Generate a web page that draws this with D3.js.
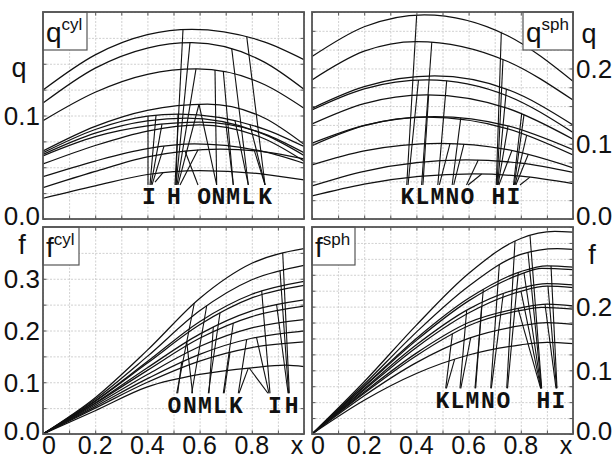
<!DOCTYPE html>
<html>
<head>
<meta charset="utf-8">
<script src="https://cdn.jsdelivr.net/npm/d3@7"></script>
<style>
  html, body { margin: 0; padding: 0; background: #fff; }
  svg { display: block; }
</style>
</head>
<body>
<svg id="fig" width="612" height="461"></svg>
<script>
// ---- curve families: [x, value] pairs along each profile ----
const qCylCurves = [
  [[0,0.1246],[0.2,0.1586],[0.4,0.1781],[0.57,0.1833],[0.85,0.1709],[1,0.154]],
  [[0,0.112],[0.2,0.1458],[0.4,0.1652],[0.57,0.1704],[0.85,0.1513],[1,0.1253]],
  [[0,0.095],[0.2,0.1225],[0.4,0.1398],[0.59,0.145],[0.85,0.1297],[1,0.107]],
  [[0,0.0657],[0.2,0.0895],[0.4,0.105],[0.63,0.111],[0.85,0.0973],[1,0.0722]],
  [[0,0.064],[0.2,0.0865],[0.4,0.0994],[0.52,0.1014],[0.85,0.0866],[1,0.07]],
  [[0,0.0625],[0.2,0.083],[0.4,0.0949],[0.55,0.0975],[0.85,0.0815],[1,0.0615]],
  [[0,0.061],[0.2,0.0795],[0.4,0.0899],[0.6,0.0935],[0.85,0.082],[1,0.064]],
  [[0,0.0531],[0.2,0.071],[0.4,0.085],[0.6,0.091],[0.85,0.0773],[1,0.056]],
  [[0,0.0409],[0.2,0.056],[0.4,0.068],[0.58,0.0725],[0.85,0.0648],[1,0.0538]],
  [[0,0.0303],[0.2,0.046],[0.4,0.06],[0.68,0.0676],[0.85,0.0649],[1,0.058]],
  [[0,0.02],[0.2,0.032],[0.4,0.043],[0.6,0.0467],[0.85,0.0432],[1,0.0377]]
];
const qSphCurves = [
  [[0,0.2158],[0.2,0.2554],[0.43,0.2713],[0.75,0.2435],[1,0.183]],
  [[0,0.1848],[0.2,0.223],[0.40,0.2358],[0.75,0.2093],[1,0.158]],
  [[0,0.147],[0.2,0.1758],[0.47,0.19],[0.75,0.1719],[1,0.125]],
  [[0,0.145],[0.2,0.173],[0.44,0.1848],[0.75,0.1634],[1,0.115]],
  [[0,0.1263],[0.2,0.1534],[0.44,0.1649],[0.75,0.1469],[1,0.106]],
  [[0,0.1006],[0.2,0.1243],[0.47,0.136],[0.75,0.1237],[1,0.092]],
  [[0,0.0975],[0.2,0.124],[0.44,0.1352],[0.75,0.1198],[1,0.085]],
  [[0,0.072],[0.2,0.0906],[0.49,0.1006],[0.75,0.0921],[1,0.068]],
  [[0,0.044],[0.2,0.0634],[0.59,0.0785],[0.8,0.0742],[1,0.062]],
  [[0,0.0306],[0.2,0.0464],[0.62,0.0598],[0.8,0.0569],[1,0.047]]
];
const fCylCurves = [
  [[0,0],[0.2,0.070],[0.4,0.162],[0.6,0.262],[0.8,0.330],[1,0.358]],
  [[0,0],[0.2,0.067],[0.4,0.150],[0.6,0.238],[0.8,0.298],[1,0.326]],
  [[0,0],[0.2,0.064],[0.4,0.140],[0.6,0.217],[0.8,0.270],[1,0.295]],
  [[0,0],[0.2,0.063],[0.4,0.137],[0.6,0.211],[0.8,0.263],[1,0.287]],
  [[0,0],[0.2,0.060],[0.4,0.128],[0.6,0.193],[0.8,0.238],[1,0.259]],
  [[0,0],[0.2,0.059],[0.4,0.123],[0.6,0.185],[0.8,0.227],[1,0.247]],
  [[0,0],[0.2,0.056],[0.4,0.115],[0.6,0.169],[0.8,0.205],[1,0.221]],
  [[0,0],[0.2,0.053],[0.4,0.107],[0.6,0.154],[0.8,0.185],[1,0.199]],
  [[0,0],[0.2,0.050],[0.4,0.100],[0.6,0.141],[0.8,0.167],[1,0.178]],
  [[0,0],[0.2,0.045],[0.4,0.091],[0.6,0.115],[0.8,0.128],[0.93,0.133],[1,0.130]]
];
const fSphCurves = [
  [[0,0],[0.2,0.082],[0.4,0.171],[0.6,0.252],[0.8,0.307],[0.93,0.318],[1,0.317]],
  [[0,0],[0.2,0.078],[0.4,0.160],[0.6,0.232],[0.8,0.282],[0.94,0.291],[1,0.290]],
  [[0,0],[0.2,0.075],[0.4,0.150],[0.6,0.213],[0.8,0.255],[0.90,0.264],[1,0.262]],
  [[0,0],[0.2,0.074],[0.4,0.147],[0.6,0.209],[0.8,0.251],[0.88,0.260],[1,0.258]],
  [[0,0],[0.2,0.071],[0.4,0.140],[0.6,0.196],[0.8,0.229],[0.90,0.236],[1,0.234]],
  [[0,0],[0.2,0.069],[0.4,0.136],[0.6,0.190],[0.8,0.224],[0.90,0.232],[1,0.230]],
  [[0,0],[0.2,0.066],[0.4,0.127],[0.6,0.175],[0.8,0.198],[0.90,0.204],[1,0.201]],
  [[0,0],[0.2,0.064],[0.4,0.123],[0.6,0.170],[0.8,0.194],[0.88,0.199],[1,0.196]],
  [[0,0],[0.2,0.060],[0.4,0.112],[0.6,0.150],[0.8,0.170],[0.90,0.175],[1,0.172]],
  [[0,0],[0.2,0.053],[0.4,0.095],[0.6,0.124],[0.8,0.140],[0.90,0.144],[1,0.142]]
];

// ---- leader lines: [x label end, y label end, x on curve, approx y on curve] ----
const qCylPointers = [
  [0.4023,0.0329,0.4023,0.0986],[0.4100,0.0329,0.4330,0.0986],[0.4138,0.0329,0.4559,0.0899],
  [0.4176,0.0329,0.4636,0.0696],[0.4291,0.0357,0.4598,0.0444],
  [0.5057,0.0329,0.5364,0.1836],[0.5096,0.0329,0.5632,0.1700],[0.5134,0.0329,0.5862,0.1449],
  [0.5172,0.0329,0.5977,0.1101],[0.5096,0.0329,0.5172,0.1005],[0.5249,0.0329,0.5939,0.0667],
  [0.5939,0.0329,0.5441,0.0599],[0.6654,0.0329,0.5977,0.1101],[0.6654,0.0329,0.6590,0.1449],
  [0.7291,0.0329,0.6908,0.1440],[0.7291,0.0329,0.7000,0.0950],
  [0.7866,0.0329,0.7230,0.1665],[0.7866,0.0329,0.7356,0.0957],
  [0.8506,0.0329,0.7805,0.1761],[0.8506,0.0329,0.7931,0.0925],[0.8506,0.0329,0.8100,0.0620]
];
const qSphPointers = [
  [0.363,0.0452,0.401,0.2713],[0.368,0.0452,0.408,0.1848],
  [0.420,0.0452,0.459,0.2344],[0.425,0.0452,0.447,0.1650],
  [0.482,0.0452,0.516,0.1848],[0.488,0.0452,0.529,0.1094],
  [0.537,0.0452,0.570,0.1339],[0.543,0.0452,0.582,0.0984],
  [0.592,0.0452,0.637,0.0741],[0.598,0.0452,0.650,0.0562],
  [0.706,0.0452,0.7253,0.2469],[0.709,0.0452,0.7318,0.2137],[0.711,0.0452,0.7448,0.1738],
  [0.713,0.0452,0.7510,0.1273],[0.716,0.0452,0.7660,0.0918],
  [0.772,0.0452,0.8034,0.1472],[0.775,0.0452,0.8123,0.1307],[0.778,0.0452,0.8226,0.1086],
  [0.781,0.0452,0.8287,0.0828],[0.797,0.0452,0.8350,0.0520]
];
const fCylPointers = [
  [0.5123,0.0787,0.5797,0.2570],[0.5160,0.0787,0.5314,0.1398],
  [0.5697,0.0787,0.6272,0.2493],[0.5730,0.0787,0.5506,0.1849],
  [0.6333,0.0787,0.6782,0.2352],[0.6360,0.0787,0.6525,0.2073],
  [0.6908,0.0787,0.7291,0.2106],[0.6940,0.0787,0.7165,0.1623],
  [0.7483,0.0787,0.7805,0.1816],[0.7510,0.0787,0.7866,0.1270],
  [0.8697,0.0787,0.8379,0.2816],[0.8659,0.0787,0.8180,0.1960],[0.8620,0.0787,0.7900,0.1350],
  [0.9437,0.0787,0.9184,0.3492],[0.9410,0.0787,0.9080,0.3136],[0.9390,0.0787,0.8950,0.2470]
];
const fSphPointers = [
  [0.5123,0.0717,0.5379,0.1581],[0.5150,0.0717,0.5467,0.1214],
  [0.5670,0.0717,0.5927,0.1998],[0.5700,0.0717,0.6080,0.1554],
  [0.6245,0.0717,0.6563,0.2339],[0.6270,0.0717,0.6500,0.1947],
  [0.6847,0.0717,0.7176,0.2705],[0.6870,0.0717,0.7330,0.2287],
  [0.7460,0.0717,0.7778,0.3046],[0.7490,0.0717,0.7904,0.2575],
  [0.8801,0.0717,0.8352,0.3124],[0.8790,0.0717,0.8276,0.2857],[0.8780,0.0717,0.8123,0.2543],
  [0.8770,0.0717,0.8008,0.2261],[0.8760,0.0717,0.7893,0.2025],
  [0.9387,0.0717,0.9157,0.2637],[0.9370,0.0717,0.9042,0.2339],[0.9350,0.0717,0.8927,0.2104]
];

// ---- case letters: [letter, x centre] ----
const qCylLetters = [["I",0.406],["H",0.502],["O",0.617],["N",0.672],["M",0.729],["L",0.787],["K",0.851]];
const qSphLetters = [["K",0.3659],["L",0.4234],["M",0.4808],["N",0.5383],["O",0.5958],["H",0.7138],["I",0.7713]];
const fCylLetters = [["O",0.5038],["N",0.5632],["M",0.6207],["L",0.6782],["K",0.7395],["I",0.8889],["H",0.9529]];
const fSphLetters = [["K",0.5],["L",0.5575],["M",0.6149],["N",0.6743],["O",0.7337],["H",0.8862],["I",0.9437]];

// ---- tick labels ----
const xTickLabels = [0, 0.2, 0.4, 0.6, 0.8, 1];
const qCylYLabels = [0, 0.1];
const qSphYLabels = [0, 0.1, 0.2];
const fCylYLabels = [0, 0.1, 0.2, 0.3];
const fSphYLabels = [0, 0.1, 0.2];

// ---- panel layout ----
const panels = [
  { sym: "q", sup: "cyl", left: 43, right: 304, top: 12, bottom: 219, ymax: 0.2, ystep: 0.025,
    curves: qCylCurves, pointers: qCylPointers, letters: qCylLetters, letterY: 0.0145,
    yLabels: qCylYLabels, side: "left", boxSide: "left", title: [19, 72], xAxis: false },
  { sym: "q", sup: "sph", left: 312, right: 573, top: 12, bottom: 219, ymax: 0.275, ystep: 0.025,
    curves: qSphCurves, pointers: qSphPointers, letters: qSphLetters, letterY: 0.02,
    yLabels: qSphYLabels, side: "right", boxSide: "right", title: [589, 38], xAxis: false },
  { sym: "f", sup: "cyl", left: 43, right: 304, top: 227, bottom: 434, ymax: 0.4, ystep: 0.05,
    curves: fCylCurves, pointers: fCylPointers, letters: fCylLetters, letterY: 0.04,
    yLabels: fCylYLabels, side: "left", boxSide: "left", title: [22, 249], xAxis: true },
  { sym: "f", sup: "sph", left: 312, right: 573, top: 227, bottom: 434, ymax: 0.325, ystep: 0.025,
    curves: fSphCurves, pointers: fSphPointers, letters: fSphLetters, letterY: 0.0413,
    yLabels: fSphYLabels, side: "right", boxSide: "left", title: [592, 259], xAxis: true }
];

const svg = d3.select("#fig");
const SANS = "'Liberation Sans', Arial, Helvetica, sans-serif";
const MONO = "'Liberation Mono', 'Courier New', monospace";
const fmt1 = d3.format(".1f");

function yAtX(node, px) {
  const total = node.getTotalLength();
  let lo = 0, hi = total;
  for (let i = 0; i < 30; i++) {
    const mid = (lo + hi) / 2;
    if (node.getPointAtLength(mid).x < px) lo = mid; else hi = mid;
  }
  return node.getPointAtLength((lo + hi) / 2).y;
}

panels.forEach((p, pi) => {
  const x = d3.scaleLinear().domain([0, 1]).range([p.left, p.right]);
  const y = d3.scaleLinear().domain([0, p.ymax]).range([p.bottom, p.top]);
  const w = p.right - p.left, h = p.bottom - p.top;
  const g = svg.append("g");

  const clipId = "clip" + pi;
  svg.append("clipPath").attr("id", clipId)
    .append("rect").attr("x", p.left).attr("y", p.top).attr("width", w).attr("height", h);

  const xGrid = d3.range(0, 1.0001, 0.1);
  const yGrid = d3.range(0, p.ymax + 1e-9, p.ystep);

  // grid
  const grid = g.append("g");
  grid.append("g").attr("transform", `translate(0,${p.bottom})`)
    .call(d3.axisBottom(x).tickValues(xGrid).tickSize(-h).tickFormat(""))
    .call(s => s.select(".domain").remove());
  grid.append("g").attr("transform", `translate(${p.left},0)`)
    .call(d3.axisLeft(y).tickValues(yGrid).tickSize(-w).tickFormat(""))
    .call(s => s.select(".domain").remove());
  grid.selectAll(".tick line").attr("stroke", "#c4c4c4").attr("stroke-width", 0.8)
    .attr("stroke-dasharray", "2,1.5");

  // curves
  const line = d3.line().x(d => x(d[0])).y(d => y(d[1])).curve(d3.curveMonotoneX);
  const cg = g.append("g").attr("clip-path", `url(#${clipId})`);
  const paths = cg.selectAll("path.curve").data(p.curves).join("path")
    .attr("class", "curve").attr("d", line)
    .attr("fill", "none").attr("stroke", "#111").attr("stroke-width", 1.25);
  const nodes = paths.nodes();

  // leader lines, ends snapped onto the nearest curve
  p.pointers.forEach(d => {
    const px = x(d[2]), guess = y(d[3]);
    let best = guess, dist = Infinity;
    nodes.forEach(n => {
      const cy = yAtX(n, px);
      if (Math.abs(cy - guess) < dist) { dist = Math.abs(cy - guess); best = cy; }
    });
    cg.append("line")
      .attr("x1", x(d[0])).attr("y1", y(d[1]))
      .attr("x2", px).attr("y2", best)
      .attr("stroke", "#111").attr("stroke-width", 1.1);
  });

  // letters
  g.selectAll("text.case").data(p.letters).join("text")
    .attr("class", "case")
    .attr("x", d => x(d[1])).attr("y", y(p.letterY))
    .attr("text-anchor", "middle")
    .attr("font-family", MONO).attr("font-weight", "bold").attr("font-size", 23)
    .attr("fill", "#111").text(d => d[0]);

  // inner ticks on every side
  const tk = g.append("g");
  tk.append("g").attr("transform", `translate(0,${p.bottom})`)
    .call(d3.axisBottom(x).tickValues(xGrid).tickSize(-3.5).tickFormat(""));
  tk.append("g").attr("transform", `translate(0,${p.top})`)
    .call(d3.axisTop(x).tickValues(xGrid).tickSize(-3.5).tickFormat(""));
  tk.append("g").attr("transform", `translate(${p.left},0)`)
    .call(d3.axisLeft(y).tickValues(yGrid).tickSize(-3.5).tickFormat(""));
  tk.append("g").attr("transform", `translate(${p.right},0)`)
    .call(d3.axisRight(y).tickValues(yGrid).tickSize(-3.5).tickFormat(""));
  tk.selectAll(".domain").remove();
  tk.selectAll(".tick line").attr("stroke", "#555").attr("stroke-width", 1);

  // name box
  const box = g.append("g");
  const t = box.append("text").attr("font-family", SANS).attr("fill", "#111");
  t.append("tspan").attr("font-size", 28).text(p.sym);
  t.append("tspan").attr("font-size", 17).attr("dy", -12).text(p.sup);
  const bb = t.node().getBBox();
  const bw = Math.ceil(bb.width) + 7, bh = 38;
  const bx = p.boxSide === "left" ? p.left : p.right - bw;
  box.insert("rect", "text").attr("x", bx).attr("y", p.top).attr("width", bw).attr("height", bh)
    .attr("fill", "#fff").attr("stroke", "#555").attr("stroke-width", 1.2);
  t.attr("x", bx + 3).attr("y", p.top + 30);

  // frame
  g.append("rect").attr("x", p.left).attr("y", p.top).attr("width", w).attr("height", h)
    .attr("fill", "none").attr("stroke", "#555").attr("stroke-width", 1.8);

  // y tick labels
  const yl = g.append("g").attr("font-family", SANS).attr("font-size", 26).attr("fill", "#111");
  yl.selectAll("text").data(p.yLabels).join("text")
    .attr("x", p.side === "left" ? p.left - 3 : p.right + 3)
    .attr("y", d => y(d) + (d === 0 ? -3 : 0))
    .attr("dy", "0.36em")
    .attr("text-anchor", p.side === "left" ? "end" : "start")
    .text(d => fmt1(d));

  // axis title
  g.append("text").attr("x", p.title[0]).attr("y", p.title[1]).attr("dy", "0.2em")
    .attr("text-anchor", "middle").attr("font-family", SANS).attr("font-size", 27)
    .attr("fill", "#111").text(p.sym);

  // x tick labels
  if (p.xAxis) {
    g.append("g").attr("font-family", SANS).attr("font-size", 25).attr("fill", "#111")
      .selectAll("text").data(xTickLabels).join("text")
      .attr("x", d => x(d) + (d === 0 ? 6 : d === 1 ? -7 : 0))
      .attr("y", 454)
      .attr("text-anchor", "middle")
      .text(d => d === 0 ? "0" : d === 1 ? "x" : fmt1(d));
  }
});
</script>
</body>
</html>
